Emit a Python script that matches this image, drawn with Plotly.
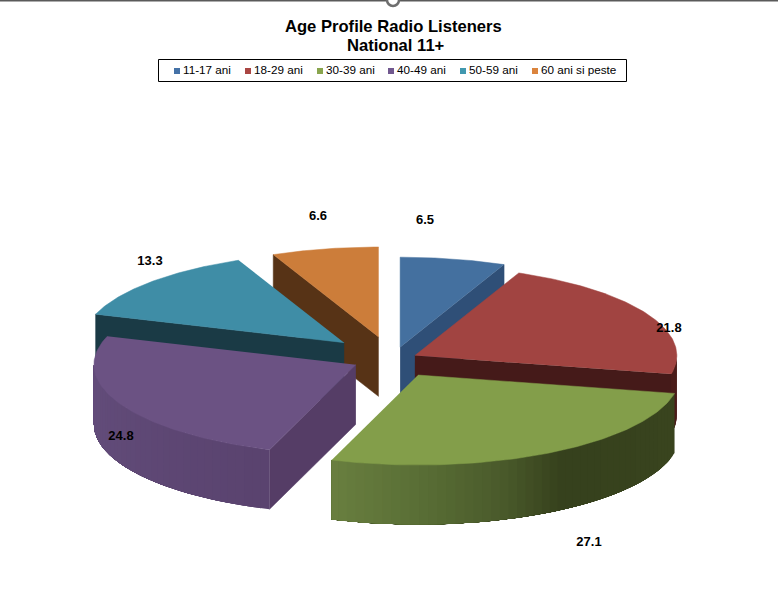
import numpy as np
import plotly.graph_objects as go

# chart data
CATEGORIES = ["11-17 ani", "18-29 ani", "30-39 ani", "40-49 ani", "50-59 ani", "60 ani si peste"]
VALUES = [6.5, 21.8, 27.1, 24.8, 13.3, 6.6]
PULL = [50, 28, 57, 38, 62, 55]
LIFT = [4, 0, -2, -1, -3, -4.5]  # the picture's perspective nudges each slice a bit

TOP_COLORS = ["#44709F", "#A14441", "#839E4A", "#6B5283", "#3F8DA6", "#CC7D3A"]
FACE_COLORS = ["#2F4F77", "#451A19", "#36411D", "#553D66", "#1A3A45", "#573316"]
LEGEND_COLORS = ["#4572A7", "#AA4643", "#89A54E", "#71588F", "#4198AF", "#DB843D"]

# outer wall shading, (angle, colour) stops per slice
WALL_STOPS = {
    1: [(90, "#4A1C1A"), (110, "#4A1C1A")],
    2: [(102, "#3A451F"), (147, "#36411D"), (161, "#4A5A2B"), (180, "#5A6F36"), (200, "#6A8040")],
    3: [(199, "#5A436F"), (270, "#644E7C")],
}

# layout in page pixels
CX, CY = 390, 360
RX, RY = 262, 90
DEPTH = 59.5
LABEL_X = [425, 669, 589, 121, 150, 318]
LABEL_Y = [221, 329, 543, 437, 262, 217]
LEGEND_X = [177, 248, 320, 391, 463, 535]
LEGEND_TEXT_GAP = 6
LEGEND_Y = 71


def to_rgb(c):
    return np.array([int(c[i:i + 2], 16) for i in (1, 3, 5)], dtype=float)


def wall_color(stops, t):
    angles = [s[0] for s in stops]
    rgb = [np.interp(t, angles, [to_rgb(s[1])[k] for s in stops]) for k in range(3)]
    return "rgb(%d,%d,%d)" % tuple(rgb)


def poly(fig, xs, ys, color, width=0.5):
    fig.add_trace(go.Scatter(
        x=xs, y=ys, mode="lines", fill="toself", fillcolor=color,
        line=dict(color=color, width=width), hoverinfo="skip", showlegend=False,
    ))


shares = np.array(VALUES) / sum(VALUES) * 360
ends = np.cumsum(shares)
starts = ends - shares
mids = (starts + ends) / 2

fig = go.Figure()

# back slices first
for i in sorted(range(len(VALUES)), key=lambda k: -np.cos(np.radians(mids[k]))):
    t0, t1 = starts[i], ends[i]
    ax = CX + PULL[i] * np.sin(np.radians(mids[i]))
    ay = CY - PULL[i] * RY / RX * np.cos(np.radians(mids[i])) + LIFT[i]

    def rim(t):
        r = np.radians(t)
        return ax + RX * np.sin(r), ay - RY * np.cos(r)

    # radial cut faces that look at the viewer
    for t, visible in ((t1, t1 < 180), (t0, t0 > 180)):
        if visible:
            ex, ey = rim(t)
            poly(fig, [ax, ex, ex, ax], [ay, ey, ey + DEPTH, ay + DEPTH], FACE_COLORS[i])

    # outer wall, front half only; each band runs to the far end so no seams show
    lo, hi = max(t0, 90), min(t1, 270)
    if lo < hi and i in WALL_STOPS:
        for a in np.arange(lo, hi, 2.0):
            seg = np.linspace(a, hi, 60)
            px, py = rim(seg)
            poly(fig, list(px) + list(px[::-1]), list(py) + list(py[::-1] + DEPTH),
                 wall_color(WALL_STOPS[i], a + 1), width=0)

    # top
    tt = np.linspace(t0, t1, 90)
    px, py = rim(tt)
    poly(fig, [ax] + list(px), [ay] + list(py), TOP_COLORS[i])

# value labels
fig.add_trace(go.Scatter(
    x=LABEL_X, y=LABEL_Y, mode="text", text=[str(v) for v in VALUES],
    textfont=dict(family="Liberation Sans", size=13, color="black", weight="bold"),
    textposition="middle center", hoverinfo="skip", showlegend=False,
))

# legend row
fig.add_shape(type="rect", x0=158.5, x1=626.5, y0=59.5, y1=81.5,
              line=dict(color="black", width=1), layer="below")
fig.add_trace(go.Scatter(
    x=LEGEND_X, y=[LEGEND_Y] * len(LEGEND_X), mode="markers",
    marker=dict(symbol="square", size=6, color=LEGEND_COLORS),
    hoverinfo="skip", showlegend=False,
))
fig.add_trace(go.Scatter(
    x=[x + LEGEND_TEXT_GAP for x in LEGEND_X], y=[LEGEND_Y] * len(LEGEND_X),
    mode="text", text=CATEGORIES, textposition="middle right", cliponaxis=False,
    textfont=dict(family="Liberation Sans", size=11.7, color="black"),
    hoverinfo="skip", showlegend=False,
))

# strip at the top edge of the screenshot
fig.add_shape(type="line", x0=0, x1=778, y0=0.5, y1=0.5, line=dict(color="#5A5A5A", width=2), layer="below")
fig.add_trace(go.Scatter(
    x=[393], y=[0], mode="markers", cliponaxis=True,
    marker=dict(symbol="circle", size=12, color="white", line=dict(color="#6E6E6E", width=2.5)),
    hoverinfo="skip", showlegend=False,
))

# two title lines set apart so their spacing matches
for line, xpos, ypos in (("Age Profile Radio Listeners", 393.5, 26.5), ("National 11+", 396, 45.5)):
    fig.add_annotation(
        text=line, x=xpos, y=ypos, xref="x", yref="y", showarrow=False,
        font=dict(family="Liberation Sans", size=16.6, color="black", weight="bold"),
    )

fig.update_layout(
    width=778, height=612, autosize=False, showlegend=False,
    margin=dict(l=0, r=0, t=0, b=0),
    paper_bgcolor="white", plot_bgcolor="white",
    xaxis=dict(range=[0, 778], visible=False, fixedrange=True),
    yaxis=dict(range=[612, 0], visible=False, fixedrange=True),
)

fig.write_html("out.html", config={"displayModeBar": False},
               post_script="document.body.style.margin='0';document.body.style.overflow='hidden';")
